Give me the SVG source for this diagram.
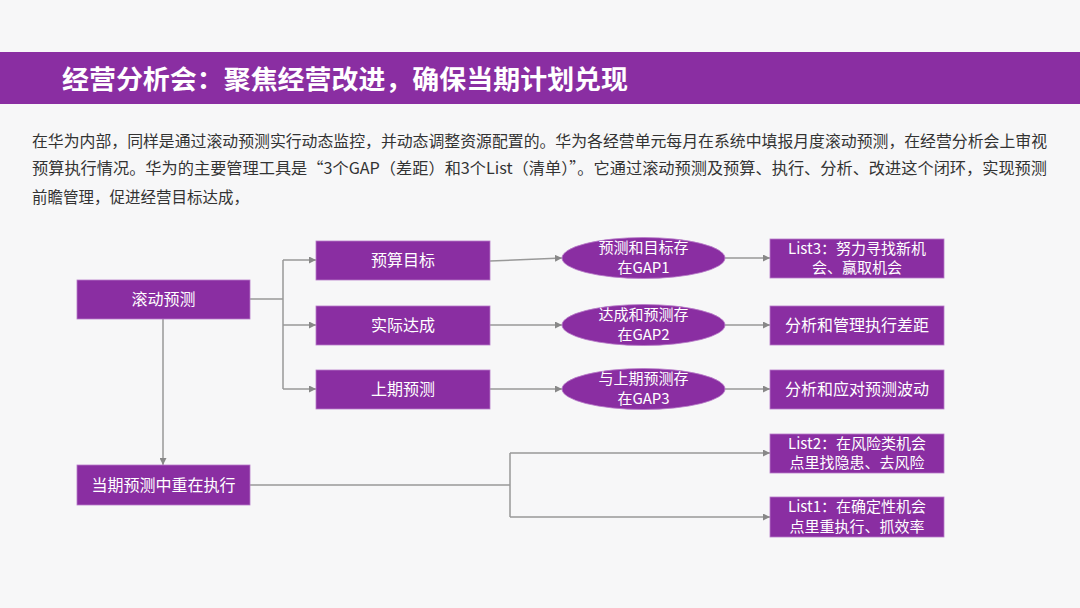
<svg xmlns="http://www.w3.org/2000/svg" width="1080" height="608" viewBox="0 0 1080 608">
<defs>
<style>
.bg{fill:#F7F7F8}
.box{fill:#8A2EA2;stroke:#B77BC8;stroke-width:0.8}
.t{font-family:"Noto Sans CJK SC","Microsoft YaHei",sans-serif;fill:#FFFFFF;font-size:16px;text-anchor:middle}
.t2{font-family:"Noto Sans CJK SC","Microsoft YaHei",sans-serif;fill:#FFFFFF;font-size:15px;text-anchor:middle}
.p{font-family:"Noto Sans CJK SC","Microsoft YaHei",sans-serif;fill:#333333;font-size:15.5px}
.c{fill:none;stroke:#999999;stroke-width:1.5}
</style>
<marker id="ah" viewBox="0 0 10 10" refX="10" refY="5" markerWidth="7" markerHeight="7" markerUnits="userSpaceOnUse" orient="auto">
<path d="M0,0 L10,5 L0,10 z" fill="#888888"/>
</marker>
</defs>
<rect class="bg" x="0" y="0" width="1080" height="608"/>
<g id="header">
<rect x="0" y="52" width="1080" height="52" fill="#8A2EA2"/>
<text x="62" y="89" font-family="'Noto Sans CJK SC','Microsoft YaHei',sans-serif" font-size="26" font-weight="bold" fill="#FFFFFF" textLength="566" lengthAdjust="spacingAndGlyphs">经营分析会：聚焦经营改进，确保当期计划兑现</text>
</g>
<g id="paragraph">
<text class="p" x="32" y="147" textLength="1015" lengthAdjust="spacingAndGlyphs">在华为内部，同样是通过滚动预测实行动态监控，并动态调整资源配置的。华为各经营单元每月在系统中填报月度滚动预测，在经营分析会上审视</text>
<text class="p" x="32" y="174" textLength="1015" lengthAdjust="spacingAndGlyphs">预算执行情况。华为的主要管理工具是“3个GAP（差距）和3个List（清单）”。它通过滚动预测及预算、执行、分析、改进这个闭环，实现预测</text>
<text class="p" x="32" y="203">前瞻管理，促进经营目标达成，</text>
</g>
<g id="connectors">
<polyline class="c" points="250,299 283,299"/>
<polyline class="c" points="283,260 283,389"/>
<polyline class="c" points="283,260 316,260" marker-end="url(#ah)"/>
<polyline class="c" points="283,325 316,325" marker-end="url(#ah)"/>
<polyline class="c" points="283,389 316,389" marker-end="url(#ah)"/>
<polyline class="c" points="163,319 163,465" marker-end="url(#ah)"/>
<polyline class="c" points="490,261 562,258" marker-end="url(#ah)"/>
<polyline class="c" points="490,325 562,325" marker-end="url(#ah)"/>
<polyline class="c" points="490,389 562,389" marker-end="url(#ah)"/>
<polyline class="c" points="725,258 770,258" marker-end="url(#ah)"/>
<polyline class="c" points="725,325 770,325" marker-end="url(#ah)"/>
<polyline class="c" points="725,389 770,389" marker-end="url(#ah)"/>
<polyline class="c" points="250,485 510,485"/>
<polyline class="c" points="510,453 510,517"/>
<polyline class="c" points="510,453 770,453" marker-end="url(#ah)"/>
<polyline class="c" points="510,517 770,517" marker-end="url(#ah)"/>
</g>
<g id="n-rolling">
<rect class="box" x="77" y="280" width="173" height="39"/>
<text class="t" x="163.5" y="305">滚动预测</text>
</g>
<g id="n-budget">
<rect class="box" x="316" y="241" width="174" height="39"/>
<text class="t" x="403" y="266">预算目标</text>
</g>
<g id="n-actual">
<rect class="box" x="316" y="306" width="174" height="39"/>
<text class="t" x="403" y="331">实际达成</text>
</g>
<g id="n-prev">
<rect class="box" x="316" y="370" width="174" height="39"/>
<text class="t" x="403" y="395">上期预测</text>
</g>
<g id="n-current">
<rect class="box" x="77" y="465" width="173" height="40"/>
<text class="t" x="163.5" y="491">当期预测中重在执行</text>
</g>
<g id="e-gap1">
<ellipse class="box" cx="643.500" cy="258" rx="81.500" ry="20.500"/>
<text class="t2"><tspan x="643.500" y="253">预测和目标存</tspan><tspan x="643.500" y="273">在GAP1</tspan></text>
</g>
<g id="e-gap2">
<ellipse class="box" cx="643.500" cy="325" rx="81.500" ry="20.500"/>
<text class="t2"><tspan x="643.500" y="320">达成和预测存</tspan><tspan x="643.500" y="340">在GAP2</tspan></text>
</g>
<g id="e-gap3">
<ellipse class="box" cx="643.500" cy="389" rx="81.500" ry="20.500"/>
<text class="t2"><tspan x="643.500" y="384">与上期预测存</tspan><tspan x="643.500" y="404">在GAP3</tspan></text>
</g>
<g id="n-list3">
<rect class="box" x="770" y="239" width="174" height="39"/>
<text class="t2"><tspan x="857" y="254">List3：努力寻找新机</tspan><tspan x="857" y="273">会、赢取机会</tspan></text>
</g>
<g id="n-gap2action">
<rect class="box" x="770" y="306" width="174" height="39"/>
<text class="t" x="857" y="331">分析和管理执行差距</text>
</g>
<g id="n-gap3action">
<rect class="box" x="770" y="370" width="174" height="39"/>
<text class="t" x="857" y="395">分析和应对预测波动</text>
</g>
<g id="n-list2">
<rect class="box" x="770" y="434" width="174" height="39"/>
<text class="t2"><tspan x="857" y="449">List2：在风险类机会</tspan><tspan x="857" y="468">点里找隐患、去风险</tspan></text>
</g>
<g id="n-list1">
<rect class="box" x="770" y="497" width="174" height="40"/>
<text class="t2"><tspan x="857" y="512">List1：在确定性机会</tspan><tspan x="857" y="532">点里重执行、抓效率</tspan></text>
</g>
</svg>
